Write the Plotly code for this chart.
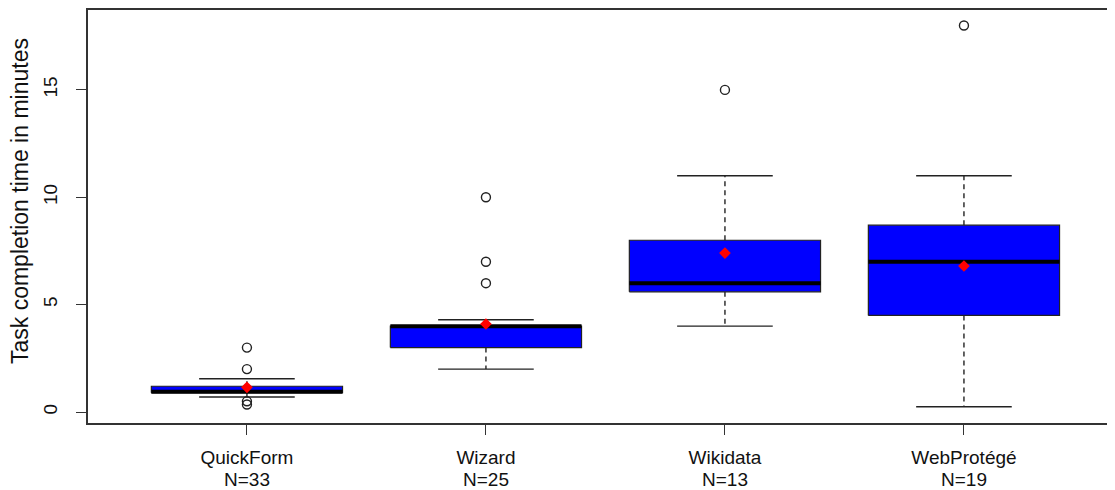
import plotly.graph_objects as go

# ---- data ----
categories = ["QuickForm", "Wizard", "Wikidata", "WebProtégé"]
n_counts = [33, 25, 13, 19]
q1 = [0.9, 3.0, 5.6, 4.5]
medians = [0.95, 4.0, 6.0, 7.0]
q3 = [1.2, 4.0, 8.0, 8.7]
lower_whisker = [0.7, 2.0, 4.0, 0.25]
upper_whisker = [1.55, 4.3, 11.0, 11.0]
means = [1.15, 4.1, 7.4, 6.8]
outliers = [[3.0, 2.0, 0.5, 0.35], [10.0, 7.0, 6.0], [15.0], [18.0]]
y_ticks = [0, 5, 10, 15]

positions = list(range(1, len(categories) + 1))
BOX_HALF = 0.4
CAP_HALF = 0.2
FONT = "Liberation Sans, Arial, sans-serif"
LINE_COL = "#222222"

fig = go.Figure()

for i, pos in enumerate(positions):
    # box
    fig.add_trace(go.Scatter(
        x=[pos - BOX_HALF, pos + BOX_HALF, pos + BOX_HALF, pos - BOX_HALF, pos - BOX_HALF],
        y=[q1[i], q1[i], q3[i], q3[i], q1[i]],
        mode="lines", fill="toself", fillcolor="#0000FF",
        line=dict(color=LINE_COL, width=1.2), hoverinfo="skip", showlegend=False))
    # whiskers (dashed)
    fig.add_trace(go.Scatter(
        x=[pos, pos, None, pos, pos],
        y=[q3[i], upper_whisker[i], None, q1[i], lower_whisker[i]],
        mode="lines", line=dict(color=LINE_COL, width=1.4, dash="5px,4px"),
        hoverinfo="skip", showlegend=False))
    # caps
    fig.add_trace(go.Scatter(
        x=[pos - CAP_HALF, pos + CAP_HALF, None, pos - CAP_HALF, pos + CAP_HALF],
        y=[upper_whisker[i], upper_whisker[i], None, lower_whisker[i], lower_whisker[i]],
        mode="lines", line=dict(color=LINE_COL, width=1.4),
        hoverinfo="skip", showlegend=False))
    # median
    fig.add_trace(go.Scatter(
        x=[pos - BOX_HALF, pos + BOX_HALF], y=[medians[i], medians[i]],
        mode="lines", line=dict(color="#000000", width=4),
        hoverinfo="skip", showlegend=False))
    # outliers
    fig.add_trace(go.Scatter(
        x=[pos] * len(outliers[i]), y=outliers[i], mode="markers",
        marker=dict(symbol="circle-open", size=9, color=LINE_COL, line=dict(width=1.4)),
        showlegend=False))

# means
fig.add_trace(go.Scatter(
    x=positions, y=means, mode="markers",
    marker=dict(symbol="diamond", size=9, color="#FF0000"),
    showlegend=False))

n_annotations = [dict(
    text=f"N={n}", x=pos, xref="x", y=-0.136, yref="paper",
    xanchor="center", yanchor="middle", showarrow=False,
    font=dict(size=19, family=FONT, color="#111111"))
    for pos, n in zip(positions, n_counts)]

fig.update_layout(
    width=1107, height=482,
    margin=dict(l=80, r=0, t=2, b=67),
    paper_bgcolor="white", plot_bgcolor="white",
    font=dict(family=FONT, size=19, color="#111111"),
    xaxis=dict(
        range=[0.335, 4.632], tickvals=positions, ticktext=categories,
        showline=True, mirror=True, linecolor="#333333", linewidth=1.5,
        ticks="outside", ticklen=10, tickcolor="#333333", tickwidth=1.3,
        showgrid=False, zeroline=False, ticklabelstandoff=6,
        tickfont=dict(size=19, family=FONT, color="#111111")),
    yaxis=dict(
        range=[-0.51, 18.72], tickvals=y_ticks,
        showline=True, linecolor="#333333", linewidth=1.5,
        ticks="outside", ticklen=10, tickcolor="#333333", tickwidth=1.3,
        showgrid=False, zeroline=False, tickangle=-90, ticklabelstandoff=12,
        tickfont=dict(size=19, family=FONT, color="#111111")),
    annotations=[dict(
        text="Task completion time in minutes", textangle=-90,
        xref="paper", yref="paper", x=-0.0662, y=0.5375,
        xanchor="center", yanchor="middle", showarrow=False,
        font=dict(size=23, family=FONT, color="#111111"))] + n_annotations,
)

fig.write_html("out.html")
